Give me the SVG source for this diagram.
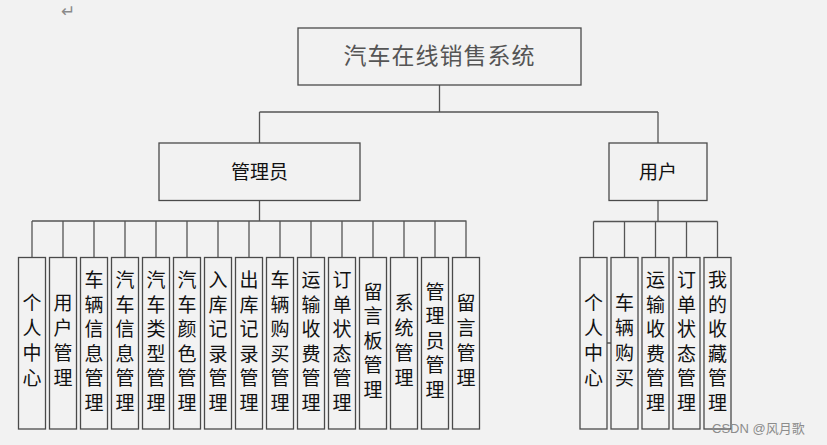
<svg xmlns="http://www.w3.org/2000/svg" width="827" height="445" viewBox="0 0 827 445">
<style>
.bx{fill:#f2f2f2;stroke:#4a4a4a;stroke-width:1.3}
.ln{fill:none;stroke:#555;stroke-width:1.3}
.t{font-family:"Noto Sans CJK SC","Liberation Sans",sans-serif;fill:#111;text-anchor:middle}
.v{font-size:19px}
</style>
<rect width="827" height="445" fill="#f2f2f2"/>
<text x="68" y="17" font-family="DejaVu Sans,sans-serif" font-size="17" fill="#8a8a8a" text-anchor="middle">↵</text>
<g id="connectors">
<path class="ln" d="M439.5 85V112M259.5 112H658M259.5 112V143M658 112V143"/>
<path class="ln" d="M259.5 200V221M32 221H466.5M32 221V257M63 221V257M94 221V257M125 221V257M156 221V257M187 221V257M218 221V257M249 221V257M280 221V257M311 221V257M342 221V257M373 221V257M404 221V257M435 221V257M466 221V257"/>
<path class="ln" d="M658 200V221.5M593.5 221.5H717.5M593.5 221.5V257M624.5 221.5V257M655.5 221.5V257M686.5 221.5V257M717.5 221.5V257M606.5 343H611"/>
</g>
<g id="root"><rect class="bx" x="298" y="28" width="283" height="57"/><text class="t" x="439.5" y="64" font-size="23" style="fill:#555" letter-spacing="1">汽车在线销售系统</text></g>
<g id="admin"><rect class="bx" x="159" y="143" width="201" height="57.5"/><text class="t" x="259.5" y="178.5" font-size="19">管理员</text></g>
<g id="user"><rect class="bx" x="609" y="143" width="98" height="57.5"/><text class="t" x="658" y="178.5" font-size="19">用户</text></g>
<g id="a0"><rect class="bx" x="18.5" y="257.5" width="27" height="171.5"/><text class="t v" x="32"><tspan x="32" y="310">个</tspan><tspan x="32" y="335">人</tspan><tspan x="32" y="360">中</tspan><tspan x="32" y="385">心</tspan></text></g>
<g id="a1"><rect class="bx" x="49.5" y="257.5" width="27" height="171.5"/><text class="t v"><tspan x="63" y="310">用</tspan><tspan x="63" y="335">户</tspan><tspan x="63" y="360">管</tspan><tspan x="63" y="385">理</tspan></text></g>
<g id="a2"><rect class="bx" x="80.5" y="257.5" width="27" height="171.5"/><text class="t v"><tspan x="94" y="287">车</tspan><tspan x="94" y="311.5">辆</tspan><tspan x="94" y="336">信</tspan><tspan x="94" y="360.5">息</tspan><tspan x="94" y="385">管</tspan><tspan x="94" y="409.5">理</tspan></text></g>
<g id="a3"><rect class="bx" x="111.5" y="257.5" width="27" height="171.5"/><text class="t v"><tspan x="125" y="287">汽</tspan><tspan x="125" y="311.5">车</tspan><tspan x="125" y="336">信</tspan><tspan x="125" y="360.5">息</tspan><tspan x="125" y="385">管</tspan><tspan x="125" y="409.5">理</tspan></text></g>
<g id="a4"><rect class="bx" x="142.5" y="257.5" width="27" height="171.5"/><text class="t v"><tspan x="156" y="287">汽</tspan><tspan x="156" y="311.5">车</tspan><tspan x="156" y="336">类</tspan><tspan x="156" y="360.5">型</tspan><tspan x="156" y="385">管</tspan><tspan x="156" y="409.5">理</tspan></text></g>
<g id="a5"><rect class="bx" x="173.5" y="257.5" width="27" height="171.5"/><text class="t v"><tspan x="187" y="287">汽</tspan><tspan x="187" y="311.5">车</tspan><tspan x="187" y="336">颜</tspan><tspan x="187" y="360.5">色</tspan><tspan x="187" y="385">管</tspan><tspan x="187" y="409.5">理</tspan></text></g>
<g id="a6"><rect class="bx" x="204.5" y="257.5" width="27" height="171.5"/><text class="t v"><tspan x="218" y="287">入</tspan><tspan x="218" y="311.5">库</tspan><tspan x="218" y="336">记</tspan><tspan x="218" y="360.5">录</tspan><tspan x="218" y="385">管</tspan><tspan x="218" y="409.5">理</tspan></text></g>
<g id="a7"><rect class="bx" x="235.5" y="257.5" width="27" height="171.5"/><text class="t v"><tspan x="249" y="287">出</tspan><tspan x="249" y="311.5">库</tspan><tspan x="249" y="336">记</tspan><tspan x="249" y="360.5">录</tspan><tspan x="249" y="385">管</tspan><tspan x="249" y="409.5">理</tspan></text></g>
<g id="a8"><rect class="bx" x="266.5" y="257.5" width="27" height="171.5"/><text class="t v"><tspan x="280" y="287">车</tspan><tspan x="280" y="311.5">辆</tspan><tspan x="280" y="336">购</tspan><tspan x="280" y="360.5">买</tspan><tspan x="280" y="385">管</tspan><tspan x="280" y="409.5">理</tspan></text></g>
<g id="a9"><rect class="bx" x="297.5" y="257.5" width="27" height="171.5"/><text class="t v"><tspan x="311" y="287">运</tspan><tspan x="311" y="311.5">输</tspan><tspan x="311" y="336">收</tspan><tspan x="311" y="360.5">费</tspan><tspan x="311" y="385">管</tspan><tspan x="311" y="409.5">理</tspan></text></g>
<g id="a10"><rect class="bx" x="328.5" y="257.5" width="27" height="171.5"/><text class="t v"><tspan x="342" y="287">订</tspan><tspan x="342" y="311.5">单</tspan><tspan x="342" y="336">状</tspan><tspan x="342" y="360.5">态</tspan><tspan x="342" y="385">管</tspan><tspan x="342" y="409.5">理</tspan></text></g>
<g id="a11"><rect class="bx" x="359.5" y="257.5" width="27" height="171.5"/><text class="t v"><tspan x="373" y="298.5">留</tspan><tspan x="373" y="323">言</tspan><tspan x="373" y="347.5">板</tspan><tspan x="373" y="372">管</tspan><tspan x="373" y="396.5">理</tspan></text></g>
<g id="a12"><rect class="bx" x="390.5" y="257.5" width="27" height="171.5"/><text class="t v"><tspan x="404" y="310">系</tspan><tspan x="404" y="335">统</tspan><tspan x="404" y="360">管</tspan><tspan x="404" y="385">理</tspan></text></g>
<g id="a13"><rect class="bx" x="421.5" y="257.5" width="27" height="171.5"/><text class="t v"><tspan x="435" y="298.5">管</tspan><tspan x="435" y="323">理</tspan><tspan x="435" y="347.5">员</tspan><tspan x="435" y="372">管</tspan><tspan x="435" y="396.5">理</tspan></text></g>
<g id="a14"><rect class="bx" x="452.5" y="257.5" width="27" height="171.5"/><text class="t v"><tspan x="466" y="310">留</tspan><tspan x="466" y="335">言</tspan><tspan x="466" y="360">管</tspan><tspan x="466" y="385">理</tspan></text></g>
<g id="u0"><rect class="bx" x="580" y="257.5" width="27" height="171.5"/><text class="t v"><tspan x="593.5" y="310">个</tspan><tspan x="593.5" y="335">人</tspan><tspan x="593.5" y="360">中</tspan><tspan x="593.5" y="385">心</tspan></text></g>
<g id="u1"><rect class="bx" x="611" y="257.5" width="27" height="171.5"/><text class="t v"><tspan x="624.5" y="310">车</tspan><tspan x="624.5" y="335">辆</tspan><tspan x="624.5" y="360">购</tspan><tspan x="624.5" y="385">买</tspan></text></g>
<g id="u2"><rect class="bx" x="642" y="257.5" width="27" height="171.5"/><text class="t v"><tspan x="655.5" y="287">运</tspan><tspan x="655.5" y="311.5">输</tspan><tspan x="655.5" y="336">收</tspan><tspan x="655.5" y="360.5">费</tspan><tspan x="655.5" y="385">管</tspan><tspan x="655.5" y="409.5">理</tspan></text></g>
<g id="u3"><rect class="bx" x="673" y="257.5" width="27" height="171.5"/><text class="t v"><tspan x="686.5" y="287">订</tspan><tspan x="686.5" y="311.5">单</tspan><tspan x="686.5" y="336">状</tspan><tspan x="686.5" y="360.5">态</tspan><tspan x="686.5" y="385">管</tspan><tspan x="686.5" y="409.5">理</tspan></text></g>
<g id="u4"><rect class="bx" x="704" y="257.5" width="27" height="171.5"/><text class="t v"><tspan x="717.5" y="287">我</tspan><tspan x="717.5" y="311.5">的</tspan><tspan x="717.5" y="336">收</tspan><tspan x="717.5" y="360.5">藏</tspan><tspan x="717.5" y="385">管</tspan><tspan x="717.5" y="409.5">理</tspan></text></g>
<text x="712" y="433" font-family="Liberation Sans,Noto Sans CJK SC,sans-serif" font-size="13" fill="#8c8c8c">CSDN @风月歌</text>
</svg>
